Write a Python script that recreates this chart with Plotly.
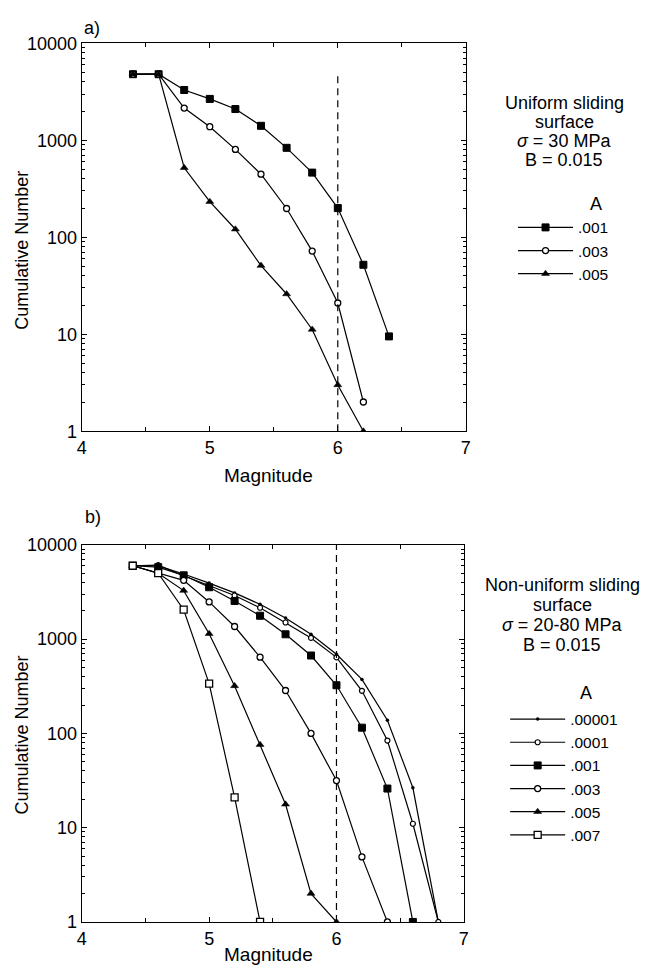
import plotly.graph_objects as go

W, H = 648, 978

# ---------------- data ----------------
mag_a = [4.4, 4.6, 4.8, 5.0, 5.2, 5.4, 5.6, 5.8, 6.0, 6.2, 6.4]
a_001 = [4800, 4800, 3300, 2670, 2100, 1410, 836, 464, 200, 52, 9.5]
a_003 = [4800, 4800, 2150, 1380, 805, 447, 198, 72, 21, 2.0]
a_005 = [4800, 4800, 521, 233, 121, 51, 26, 11.2, 3.0, 1.0]

mag_b = [4.4, 4.6, 4.8, 5.0, 5.2, 5.4, 5.6, 5.8, 6.0, 6.2, 6.4, 6.6, 6.8]
b_00001 = [6000, 6000, 4900, 3930, 3090, 2340, 1675, 1125, 690, 374, 138, 26.5, 1]
b_0001 = [6000, 6100, 4700, 3700, 2900, 2150, 1500, 1030, 640, 283, 84, 11, 1]
b_001 = [6000, 5800, 4750, 3550, 2540, 1770, 1125, 670, 324, 115, 26, 1]
b_003 = [6000, 5000, 4200, 2480, 1360, 644, 285, 100, 31.6, 4.9, 1]
b_005 = [6000, 5000, 3270, 1140, 319, 76, 17.7, 2.0, 1]
b_007 = [6000, 5000, 2050, 337, 21, 1]

labels_a = [".001", ".003", ".005"]
labels_b = [".00001", ".0001", ".001", ".003", ".005", ".007"]

FONT = "Liberation Sans, Arial, sans-serif"
FS = 18
LFS = 15.5


def px(x):
    return x / W


def py(y):
    return 1 - y / H


def style(kind):
    if kind == "sq":
        return dict(symbol="square", size=7, color="black", line=dict(color="black", width=1))
    if kind == "osq":
        return dict(symbol="square", size=7, color="white", line=dict(color="black", width=1.3))
    if kind == "oc":
        return dict(symbol="circle", size=6, color="white", line=dict(color="black", width=1.3))
    if kind == "soc":
        return dict(symbol="circle", size=5, color="white", line=dict(color="black", width=1.2))
    if kind == "tri":
        return dict(symbol="triangle-up", size=7, color="black", line=dict(color="black", width=0.5))
    if kind == "dot":
        return dict(symbol="circle", size=3.5, color="black", line=dict(color="black", width=0))


fig = go.Figure()

for vals, lab, kind in zip([a_001, a_003, a_005], labels_a, ["sq", "oc", "tri"]):
    fig.add_trace(go.Scatter(
        x=mag_a[:len(vals)], y=vals, mode="lines+markers", name=lab,
        line=dict(color="black", width=1.2), marker=style(kind),
        xaxis="x", yaxis="y", legend="legend"))

for vals, lab, kind in zip([b_00001, b_0001, b_001, b_003, b_005, b_007], labels_b,
                           ["dot", "soc", "sq", "oc", "tri", "osq"]):
    fig.add_trace(go.Scatter(
        x=mag_b[:len(vals)], y=vals, mode="lines+markers", name=lab,
        line=dict(color="black", width=1.2), marker=style(kind),
        xaxis="x2", yaxis="y2", legend="legend2"))

xa = dict(range=[4, 7], tickvals=[4, 5, 6, 7], ticktext=["4", "5", "6", "7"],
          ticks="inside", ticklen=5, tickcolor="black", tickwidth=1,
          minor=dict(tickvals=[4.5, 5.5, 6.5], ticks="inside", ticklen=4, tickcolor="black"),
          showline=True, linecolor="black", linewidth=1.3, mirror="ticks",
          showgrid=False, zeroline=False,
          tickfont=dict(family=FONT, size=FS, color="black"))
ya = dict(type="log", range=[0, 4], tickvals=[1, 10, 100, 1000, 10000],
          ticktext=["1", "10", "100", "1000", "10000"],
          ticks="inside", ticklen=5, tickcolor="black", tickwidth=1,
          minor=dict(ticks="inside", ticklen=3, tickcolor="black", dtick="D1"),
          showline=True, linecolor="black", linewidth=1.3, mirror="ticks",
          showgrid=False, zeroline=False,
          tickfont=dict(family=FONT, size=FS, color="black"))

fig.update_layout(
    width=W, height=H, margin=dict(l=0, r=0, t=0, b=0),
    paper_bgcolor="white", plot_bgcolor="white",
    font=dict(family=FONT, size=FS, color="black"),
    xaxis=dict(xa, domain=[px(78), px(468)], anchor="y"),
    yaxis=dict(ya, domain=[py(430), py(34)], anchor="x"),
    xaxis2=dict(xa, domain=[px(78), px(466)], anchor="y2"),
    yaxis2=dict(ya, domain=[py(931), py(546)], anchor="x2"),
    legend=dict(x=px(516), y=py(205), xanchor="left", yanchor="top",
                itemwidth=55, font=dict(size=LFS), bgcolor="rgba(0,0,0,0)",
                tracegroupgap=0),
    legend2=dict(x=px(508), y=py(707), xanchor="left", yanchor="top",
                 itemwidth=55, font=dict(size=LFS), bgcolor="rgba(0,0,0,0)",
                 tracegroupgap=0),
    showlegend=True,
)

# dashed vertical lines at M = 6
fig.add_shape(type="line", xref="x", yref="y domain", x0=6, x1=6, y0=0, y1=0.927,
              line=dict(color="black", width=1.2, dash="7px,5px"))
fig.add_shape(type="line", xref="x2", yref="y2 domain", x0=6, x1=6, y0=0, y1=1,
              line=dict(color="black", width=1.2, dash="7px,5px"))

ann = []


def txt(x, y, s, size=FS, **kw):
    d = dict(x=px(x), y=py(y), xref="paper", yref="paper", text=s, showarrow=False,
             font=dict(family=FONT, size=size, color="black"), xanchor="center", yanchor="middle")
    d.update(kw)
    ann.append(d)


txt(88, 18, "a)")
txt(89, 518, "b)")
txt(268, 475, "Magnitude", size=19)
txt(268, 964, "Magnitude", size=19)
txt(17, 245, "Cumulative Number", textangle=-90)
txt(17, 740, "Cumulative Number", textangle=-90)

for i, s in enumerate(["Uniform sliding", "surface", "<i>σ</i> = 30 MPa", "B = 0.015"]):
    txt(568, 95 + 19.5 * i, s)
txt(600, 198, "A")
for i, s in enumerate(["Non-uniform sliding", "surface", "<i>σ</i> = 20-80 MPa", "B = 0.015"]):
    txt(566, 587 + 20.5 * i, s)
txt(590, 697, "A")

fig.update_layout(annotations=ann)

post = (
    "document.documentElement.style.margin='0';document.documentElement.style.padding='0';"
    "document.documentElement.style.overflow='hidden';"
    "document.body.style.margin='0';document.body.style.padding='0';document.body.style.overflow='hidden';"
    "var g=document.getElementsByClassName('plotly-graph-div')[0];"
    "g.style.position='fixed';g.style.left='0px';g.style.top='0px';"
)
fig.write_html("out.html", post_script=post, config={"displayModeBar": False})
